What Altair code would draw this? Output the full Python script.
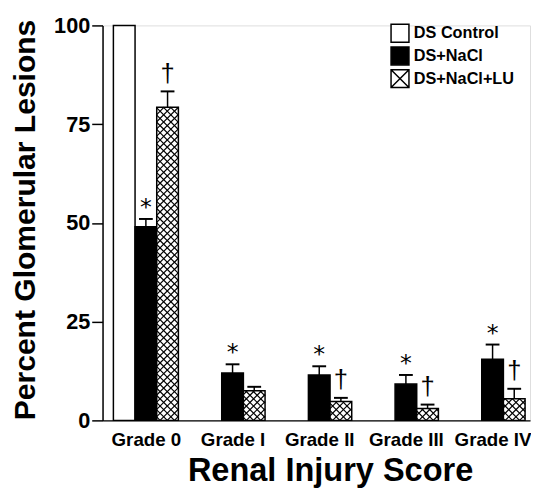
import altair as alt
import pandas as pd
import numpy as np

grades = ["Grade 0", "Grade I", "Grade II", "Grade III", "Grade IV"]
groups = ["DS Control", "DS+NaCl", "DS+NaCl+LU"]
control = [100, 0, 0, 0, 0]
nacl = [49, 12, 11.5, 9.2, 15.5]
nacl_err = [2.0, 2.2, 2.2, 2.3, 3.7]
lu = [79.3, 7.5, 4.8, 3.0, 5.5]
lu_err = [4.0, 1.0, 0.9, 1.0, 2.5]
nacl_mark = ["*", "*", "*", "*", "*"]
lu_mark = ["\u2020", "", "\u2020", "\u2020", "\u2020"]

W, H = 434, 401
XDOM = [-0.5, 4.432]
YDOM = [0, 100]
BAR = 0.25
FONT = "Liberation Sans"

series = [
    ("DS Control", control, [None] * 5, [""] * 5, -1),
    ("DS+NaCl", nacl, nacl_err, nacl_mark, 0),
    ("DS+NaCl+LU", lu, lu_err, lu_mark, 1),
]
rows = []
for name, vals, errs, marks, off in series:
    for i, g in enumerate(grades):
        c = i + off * BAR
        v = vals[i]
        e = errs[i]
        rows.append(dict(grade=g, group=name, xc=c, x1=c - BAR / 2, x2=c + BAR / 2,
                         value=v, zero=0, err_top=(v + e) if e is not None else None,
                         mark=marks[i]))
df = pd.DataFrame(rows)
df_err = df[df["err_top"].notna()]
df_bar = df[df["value"] > 0]

# cross-hatch texture for the DS+NaCl+LU bars (derived from bar extents)
ppx = W / (XDOM[1] - XDOM[0])
ppy = H / (YDOM[1] - YDOM[0])
step = 7.3
hatch = []
for r in df[df["group"] == "DS+NaCl+LU"].itertuples():
    xa = (r.x1 - XDOM[0]) * ppx
    xb = (r.x2 - XDOM[0]) * ppx
    h = r.value * ppy
    for k in range(int(np.floor((-xb) / step)) - 1, int(np.ceil((h - xa) / step)) + 2):
        c = k * step
        lo, hi = max(xa, -c), min(xb, h - c)
        if hi - lo > 0.3:
            hatch.append((lo, lo + c, hi, hi + c))
    for k in range(int(np.floor(xa / step)) - 1, int(np.ceil((xb + h) / step)) + 2):
        c = k * step
        lo, hi = max(xa, c - h), min(xb, c)
        if hi - lo > 0.3:
            hatch.append((lo, c - lo, hi, c - hi))
df_hatch = pd.DataFrame([
    dict(hx1=XDOM[0] + a / ppx, hy1=b / ppy, hx2=XDOM[0] + cc / ppx, hy2=d / ppy)
    for a, b, cc, d in hatch
])

xscale = alt.Scale(domain=XDOM, nice=False, zero=False)
yscale = alt.Scale(domain=YDOM, nice=False)
fill_range = ["white", "black", "white"]
stroke_range = ["black", "black", "black"]
shape_range = ["square", "square", "M-1,-1H1V1H-1Z M-1,-1L1,1 M-1,1L1,-1"]

label_expr = "[" + ",".join("'%s'" % g for g in grades) + "][datum.value]"
xaxis = alt.Axis(values=list(range(len(grades))), labelExpr=label_expr,
                 title="Renal Injury Score", grid=False, ticks=False, tickSize=0,
                 labelFont=FONT, labelFontWeight="bold", labelFontSize=19,
                 labelPadding=10, labelColor="black",
                 titleFont=FONT, titleFontWeight="bold", titleFontSize=33,
                 titleX=231, titleY=61, titleBaseline="alphabetic", titleColor="black",
                 domainColor="black", domainWidth=1.5)
yaxis = alt.Axis(values=[0, 25, 50, 75, 100], title="Percent Glomerular Lesions",
                 grid=False, tickSize=11, tickWidth=1.5, tickColor="black",
                 labelFont=FONT, labelFontWeight="bold", labelFontSize=22,
                 labelPadding=2, labelColor="black",
                 titleFont=FONT, titleFontWeight="bold", titleFontSize=30.5,
                 titleX=-69, titleY=197, titleBaseline="alphabetic", titleColor="black",
                 domainColor="black", domainWidth=1.5)

bars = alt.Chart(df_bar).mark_bar(stroke="black", strokeWidth=1.5).encode(
    x=alt.X("x1:Q", scale=xscale, axis=xaxis),
    x2="x2:Q",
    y=alt.Y("value:Q", scale=yscale, axis=yaxis),
    y2="zero:Q",
    fill=alt.Fill("group:N", scale=alt.Scale(domain=groups, range=fill_range), legend=None),
)

hatch_layer = alt.Chart(df_hatch).mark_rule(color="black", strokeWidth=1.2).encode(
    x="hx1:Q", x2="hx2:Q", y="hy1:Q", y2="hy2:Q"
)

stems = alt.Chart(df_err).mark_rule(color="black", strokeWidth=1.5).encode(
    x="xc:Q", y="value:Q", y2="err_top:Q"
)
caps = alt.Chart(df_err).mark_tick(orient="horizontal", color="black", size=14,
                                   thickness=2, opacity=1).encode(
    x="xc:Q", y="err_top:Q"
)

stars = alt.Chart(df_err[df_err["group"] == "DS+NaCl"]).mark_text(
    font="DejaVu Sans", fontSize=24, color="black", baseline="alphabetic", dy=-4
).encode(x="xc:Q", y="err_top:Q", text="mark:N")

daggers = alt.Chart(df_err[df_err["group"] == "DS+NaCl+LU"]).mark_text(
    font=FONT, fontSize=26, color="black", baseline="alphabetic", dy=-10
).encode(x="xc:Q", y="err_top:Q", text="mark:N")

legend_def = alt.Legend(title=None, orient="none", legendX=292, legendY=-2,
                        labelFont=FONT, labelFontWeight="bold", labelFontSize=16.5,
                        labelColor="black", labelOffset=4,
                        symbolSize=330, symbolStrokeWidth=1.5,
                        symbolStrokeColor="black", symbolOpacity=1,
                        rowPadding=-6, padding=0)

# legend driver: no rows are drawn, entries come from the explicit scale domain
legend_layer = alt.Chart(pd.DataFrame({"group": groups, "xc": [0] * 3, "v": [0] * 3})).mark_point(
    filled=True, strokeWidth=1.5
).encode(
    x="xc:Q", y="v:Q",
    fill=alt.Fill("group:N", scale=alt.Scale(domain=groups, range=fill_range), legend=legend_def),
    stroke=alt.Stroke("group:N", scale=alt.Scale(domain=groups, range=stroke_range), legend=legend_def),
    shape=alt.Shape("group:N", scale=alt.Scale(domain=groups, range=shape_range), legend=legend_def),
).transform_filter("datum.v > 1")

chart = alt.layer(bars, hatch_layer, stems, caps, stars, daggers, legend_layer).resolve_scale(
    fill="independent", shape="independent", stroke="independent"
).properties(
    width=W, height=H,
    autosize=alt.AutoSizeParams(type="none"),
    padding={"left": 96, "top": 14, "right": 1, "bottom": 68},
).configure_view(stroke=None).configure(font=FONT)

chart.save("out.html", embed_options={"renderer": "svg", "actions": False})
